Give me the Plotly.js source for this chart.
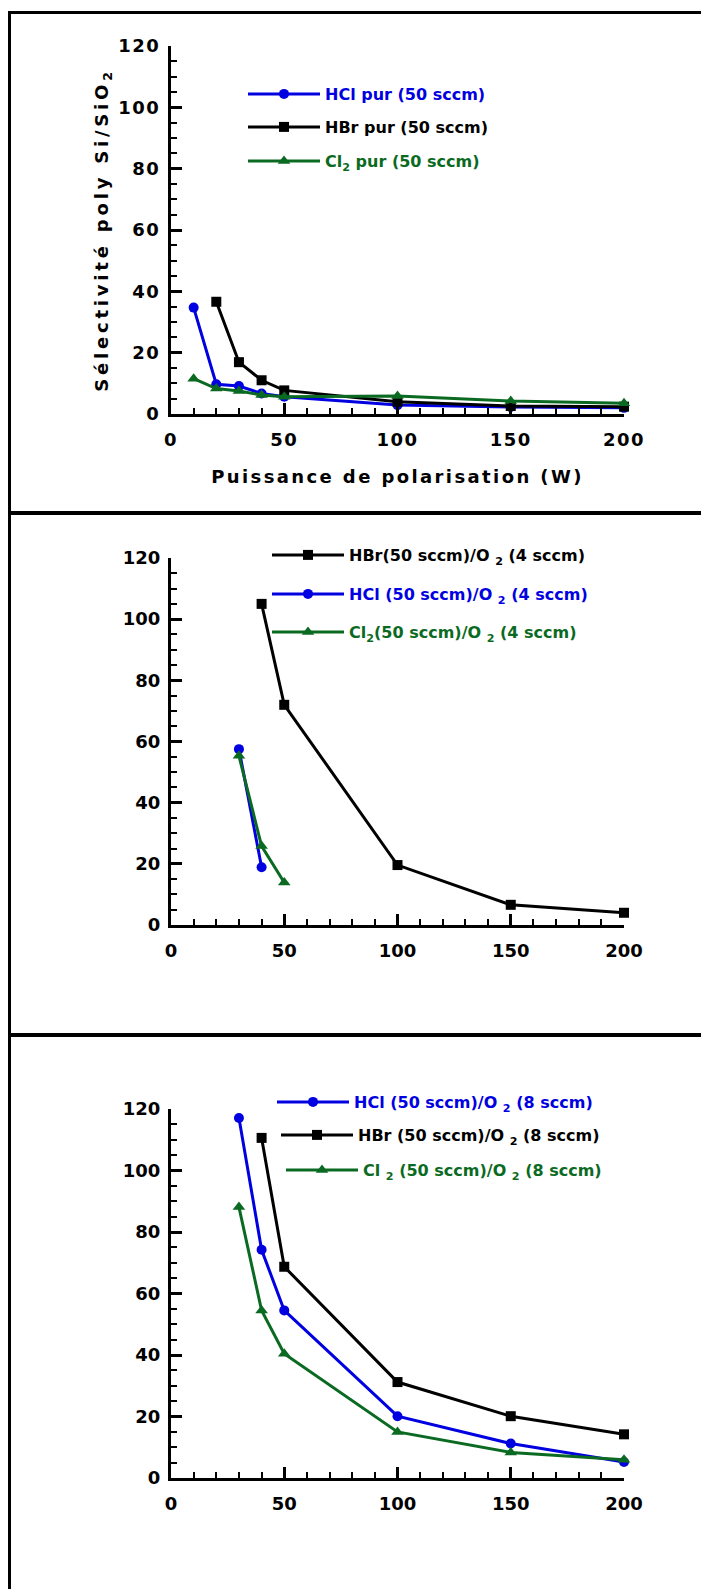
<!DOCTYPE html>
<html><head><meta charset="utf-8">
<script src="https://cdn.plot.ly/plotly-3.0.1.min.js"></script>
<style>
html,body{margin:0;padding:0;background:#fff;}
#chart{width:701px;height:1589px;}
#chart g.xtick text, #chart g.ytick text { letter-spacing: 1.5px; }
#chart text.xtitle { letter-spacing: 2.4px; }
#chart text.ytitle { letter-spacing: 3.8px; }
</style>
</head><body><div id="chart"></div>
<script>
// ---- data ----
const xTickVals = [0, 50, 100, 150, 200];
const yTickVals = [0, 20, 40, 60, 80, 100, 120];

// Panel 1 : pure gases
const p1_hcl_x = [10, 20, 30, 40, 50, 100, 150, 200];
const p1_hcl_y = [34.7, 9.7, 9.1, 6.7, 5.6, 2.9, 2.3, 2.0];
const p1_hbr_x = [20, 30, 40, 50, 100, 150, 200];
const p1_hbr_y = [36.6, 16.9, 11.0, 7.7, 4.0, 2.6, 2.4];
const p1_cl2_x = [10, 20, 30, 40, 50, 100, 150, 200];
const p1_cl2_y = [11.5, 8.3, 7.5, 6.2, 5.6, 5.9, 4.2, 3.5];

// Panel 2 : + O2 (4 sccm)
const p2_hbr_x = [40, 50, 100, 150, 200];
const p2_hbr_y = [105.0, 72.0, 19.6, 6.6, 4.0];
const p2_hcl_x = [30, 40];
const p2_hcl_y = [57.5, 18.9];
const p2_cl2_x = [30, 40, 50];
const p2_cl2_y = [55.3, 25.8, 13.9];

// Panel 3 : + O2 (8 sccm)
const p3_hcl_x = [30, 40, 50, 100, 150, 200];
const p3_hcl_y = [117.1, 74.2, 54.5, 20.1, 11.2, 5.2];
const p3_hbr_x = [40, 50, 100, 150, 200];
const p3_hbr_y = [110.6, 68.7, 31.2, 20.1, 14.2];
const p3_cl2_x = [30, 40, 50, 100, 150, 200];
const p3_cl2_y = [88.1, 54.5, 40.4, 15.0, 8.3, 5.9];

const names = {
  p1_hcl: 'HCl pur (50 sccm)',
  p1_hbr: 'HBr pur (50 sccm)',
  p1_cl2: 'Cl<sub>2</sub> pur (50 sccm)',
  p2_hbr: 'HBr(50 sccm)/O <sub>2</sub> (4 sccm)',
  p2_hcl: 'HCl (50 sccm)/O <sub>2</sub> (4 sccm)',
  p2_cl2: 'Cl<sub>2</sub>(50 sccm)/O <sub>2</sub> (4 sccm)',
  p3_hcl: 'HCl (50 sccm)/O <sub>2</sub> (8 sccm)',
  p3_hbr: 'HBr (50 sccm)/O <sub>2</sub> (8 sccm)',
  p3_cl2: 'Cl <sub>2</sub> (50 sccm)/O <sub>2</sub> (8 sccm)'
};

// ---- styling ----
const W = 701, H = 1589;
const FONT = 'DejaVu Sans';
const BLUE = '#0000e0', BLACK = '#000000', GREEN = '#0b6a22';
const px = v => v / W;
const py = v => 1 - v / H;

const style = {
  hcl: {color: BLUE, symbol: 'circle', size: 10},
  hbr: {color: BLACK, symbol: 'square', size: 10},
  cl2: {color: GREEN, symbol: 'triangle-up', size: 11}
};

function tr(x, y, gas, name, xa, ya, leg) {
  const s = style[gas];
  return {
    type: 'scatter', mode: 'lines+markers', x: x, y: y, name: name,
    xaxis: xa, yaxis: ya, legend: leg, showlegend: true, cliponaxis: false,
    line: {color: s.color, width: 3},
    marker: {color: s.color, symbol: s.symbol, size: s.size}
  };
}

const data = [
  tr(p1_hcl_x, p1_hcl_y, 'hcl', names.p1_hcl, 'x', 'y', 'legend'),
  tr(p1_hbr_x, p1_hbr_y, 'hbr', names.p1_hbr, 'x', 'y', 'legend2'),
  tr(p1_cl2_x, p1_cl2_y, 'cl2', names.p1_cl2, 'x', 'y', 'legend3'),
  tr(p2_hbr_x, p2_hbr_y, 'hbr', names.p2_hbr, 'x2', 'y2', 'legend4'),
  tr(p2_hcl_x, p2_hcl_y, 'hcl', names.p2_hcl, 'x2', 'y2', 'legend5'),
  tr(p2_cl2_x, p2_cl2_y, 'cl2', names.p2_cl2, 'x2', 'y2', 'legend6'),
  tr(p3_hcl_x, p3_hcl_y, 'hcl', names.p3_hcl, 'x3', 'y3', 'legend7'),
  tr(p3_hbr_x, p3_hbr_y, 'hbr', names.p3_hbr, 'x3', 'y3', 'legend8'),
  tr(p3_cl2_x, p3_cl2_y, 'cl2', names.p3_cl2, 'x3', 'y3', 'legend9')
];

const tickFont = {family: FONT, size: 18, weight: 'bold', color: '#000'};

function xax(anchor) {
  return {
    domain: [px(171), px(624)], range: [0, 200], anchor: anchor,
    showline: true, linewidth: 3, linecolor: '#000',
    ticks: 'inside', ticklen: 11, tickwidth: 3, tickcolor: '#000',
    tickmode: 'array', tickvals: xTickVals,
    minor: {tickmode: 'linear', tick0: 0, dtick: 10, ticks: 'inside', ticklen: 6, tickwidth: 2, tickcolor: '#000', showgrid: false},
    showgrid: false, zeroline: false, tickfont: tickFont, ticklabelstandoff: 7
  };
}
function yax(anchor, top, bottom) {
  return {
    domain: [py(bottom), py(top)], range: [0, 120], anchor: anchor,
    showline: true, linewidth: 3, linecolor: '#000',
    ticks: 'inside', ticklen: 11, tickwidth: 3, tickcolor: '#000',
    tickmode: 'array', tickvals: yTickVals,
    minor: {tickmode: 'linear', tick0: 0, dtick: 5, ticks: 'inside', ticklen: 6, tickwidth: 2, tickcolor: '#000', showgrid: false},
    showgrid: false, zeroline: false, tickfont: tickFont, ticklabelstandoff: 4
  };
}

function leg(lineX, rowY, color) {
  return {
    x: px(lineX - 5), y: py(rowY), xanchor: 'left', yanchor: 'middle',
    bgcolor: 'rgba(0,0,0,0)', borderwidth: 0, itemwidth: 72,
    font: {family: FONT, size: 16, weight: 'bold', color: color},
    itemclick: false, itemdoubleclick: false
  };
}

const layout = {
  width: W, height: H, margin: {l: 0, r: 0, t: 0, b: 0},
  paper_bgcolor: '#fff', plot_bgcolor: 'rgba(0,0,0,0)',
  font: {family: FONT, color: '#000'},
  xaxis: Object.assign(xax('y'), {title: {text: 'Puissance de polarisation (W)', font: {family: FONT, size: 18, weight: 'bold'}, standoff: 22}}),
  yaxis: Object.assign(yax('x', 46, 414), {title: {text: 'Sélectivité poly Si/SiO<sub>2</sub>', font: {family: FONT, size: 18, weight: 'bold'}, standoff: 10}}),
  xaxis2: xax('y2'),
  yaxis2: yax('x2', 558, 925),
  xaxis3: xax('y3'),
  yaxis3: yax('x3', 1109, 1478),
  legend: leg(248, 94, BLUE),
  legend2: leg(248, 127, BLACK),
  legend3: leg(248, 161, GREEN),
  legend4: leg(272, 555, BLACK),
  legend5: leg(272, 594, BLUE),
  legend6: leg(272, 632, GREEN),
  legend7: leg(277, 1102, BLUE),
  legend8: leg(281, 1135, BLACK),
  legend9: leg(286, 1170, GREEN),
  shapes: [
    {type: 'line', xref: 'paper', yref: 'paper', x0: px(9.5), x1: px(9.5), y0: py(11), y1: 0, line: {color: '#000', width: 3}},
    {type: 'line', xref: 'paper', yref: 'paper', x0: px(8), x1: 1, y0: py(12.5), y1: py(12.5), line: {color: '#000', width: 3}},
    {type: 'line', xref: 'paper', yref: 'paper', x0: px(8), x1: 1, y0: py(513), y1: py(513), line: {color: '#000', width: 4}},
    {type: 'line', xref: 'paper', yref: 'paper', x0: px(8), x1: 1, y0: py(1035), y1: py(1035), line: {color: '#000', width: 4}}
  ],
  showlegend: true
};

Plotly.newPlot('chart', data, layout, {staticPlot: true, displayModeBar: false});
</script>
</body></html>
